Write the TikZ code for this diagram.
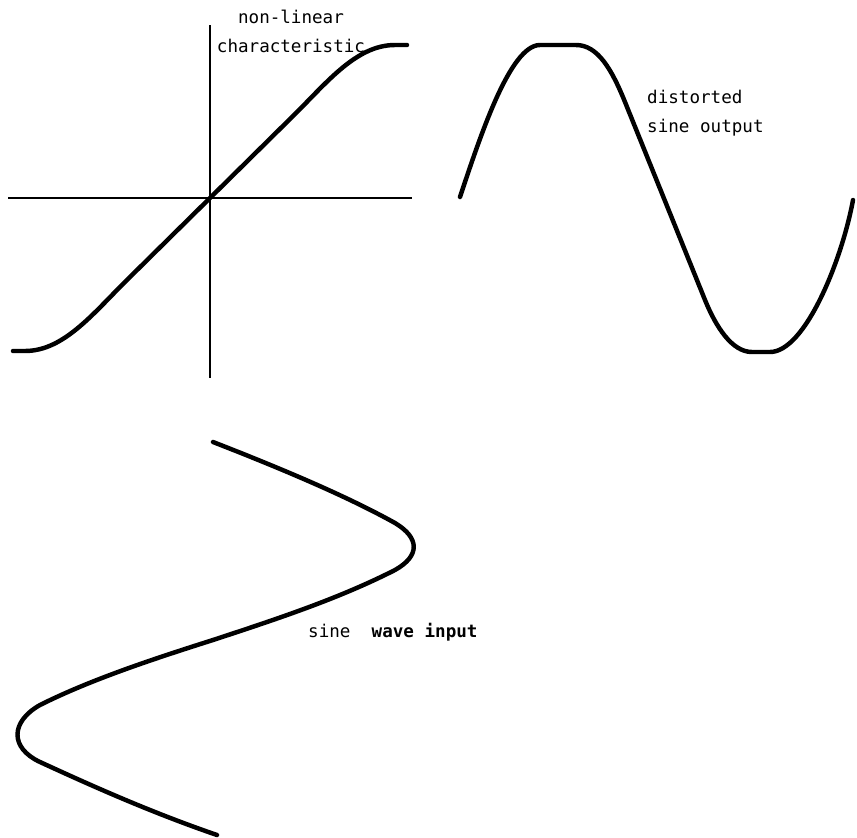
\documentclass[tikz,border=0pt]{standalone}
\usepackage{fontspec}
\setmonofont{DejaVu Sans Mono}
\usepackage{tikz}
\usetikzlibrary{positioning}

\begin{document}
\begin{tikzpicture}[
    x=0.03cm, y=-0.03cm,
    axis/.style={line width=1.7pt},
    thickaxis/.style={line width=2.5pt},
    wave/.style={line width=3.8pt, line cap=round, line join=round},
    lbl/.style={font=\ttfamily\fontsize{15}{24.7}\selectfont, inner sep=0pt}
]
    \useasboundingbox (0,0) rectangle (857,838);

    % axes of the characteristic
    \coordinate (o) at (210,198);
    \coordinate (xl) at (8,198);
    \coordinate (xr) at (412,198);
    \coordinate (yt) at (210,25);
    \coordinate (yb) at (210,378);
    \draw[thickaxis] (xl) -- (o);
    \draw[axis] (o) -- (xr);
    \draw[thickaxis] (yt) -- (o);
    \draw[axis] (o) -- (yb);

    % non-linear characteristic
    \draw[wave] (13,351) -- (25,351) .. controls (65,351) and (95,311) .. (130,277)
        -- (290,119) .. controls (325,85) and (355,45) .. (395,45) -- (407,45);
    \node[lbl, align=center] (char) at (291,31) {non-linear\\characteristic};

    % distorted output
    \draw[wave] (460,197) .. controls (480,137) and (510,45) .. (540,45) -- (576,45)
        .. controls (598,45) and (612,70) .. (625,102) -- (705,300)
        .. controls (716,327) and (732,352) .. (752,352) -- (770,352)
        .. controls (805,352) and (842,260) .. (853,200);
    \node[lbl, align=left, anchor=west] (out) at (647,113) {distorted\\sine output};

    % sine input
    \draw[wave] (213,442) .. controls (290,472) and (350,498) .. (395,523)
        .. controls (420,538) and (420,556) .. (395,570)
        .. controls (340,598) and (280,618) .. (213,640)
        .. controls (150,660) and (90,680) .. (40,705)
        .. controls (10,722) and (10,748) .. (40,762)
        .. controls (90,785) and (150,812) .. (217,835);
    \node[lbl, anchor=west] (in) at (308,632) {sine\ \ \textbf{wave input}};
\end{tikzpicture}
\end{document}
